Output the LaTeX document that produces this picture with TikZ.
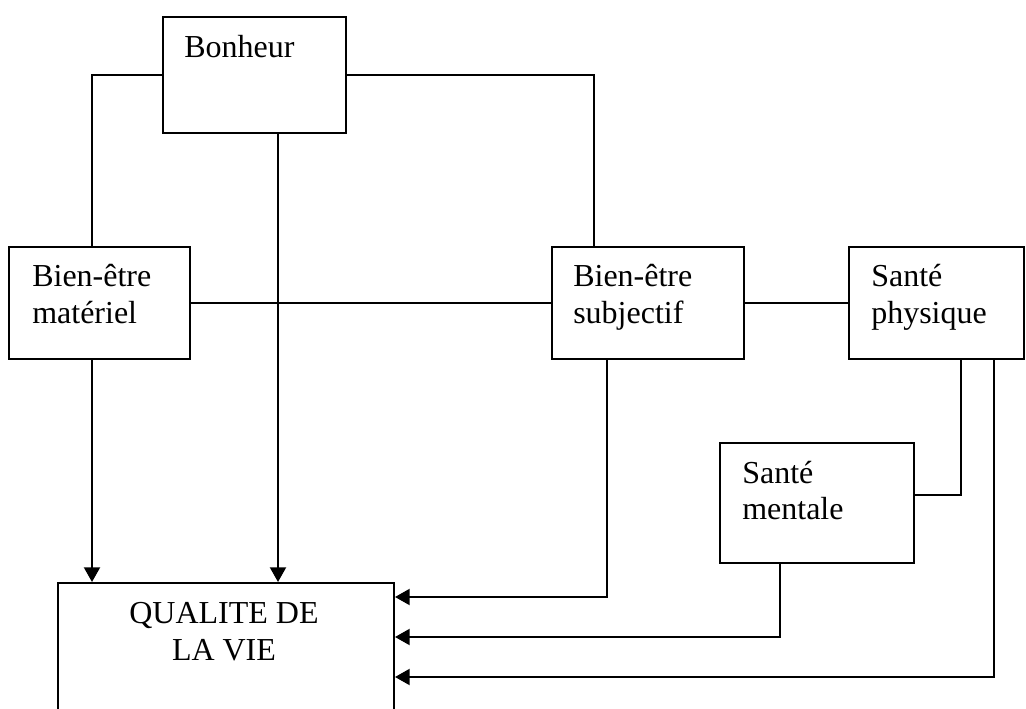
\documentclass[tikz,border=0pt]{standalone}
\usepackage{fontspec}
\setmainfont{Liberation Serif}
\usetikzlibrary{arrows.meta}

\begin{document}
\begin{tikzpicture}[x=0.75pt,y=-0.75pt]
		\tikzset{box/.style = {shape=rectangle,draw,line width=1.5pt,inner sep=0pt}}
		\tikzset{txt/.style = {font=\fontsize{24}{27.75}\selectfont,inner sep=0pt,anchor=base west,align=left}}
		\tikzset{edge/.style = {line width=1.5pt}}
		\tikzset{arr/.style = {edge,-{Triangle[length=11pt,width=12pt]}}}
		\useasboundingbox (0,0) rectangle (1026,709);
		% boxes
		\node[box, minimum width=137.25pt, minimum height=87pt] (bon) at (254.5,75) {};
		\node[box, minimum width=135.75pt, minimum height=84pt] (mat) at (99.5,303) {};
		\node[box, minimum width=144pt, minimum height=84pt] (sub) at (648,303) {};
		\node[box, minimum width=131.25pt, minimum height=84pt] (phy) at (936.5,303) {};
		\node[box, minimum width=145.5pt, minimum height=90pt] (men) at (817,503) {};
		\node[box, minimum width=252pt, minimum height=102.75pt] (qual) at (226,651.5) {};
		
		% texts (base = last line)
		\node[txt] (bontxt) at (184,58) {Bonheur};
		\node[txt] (mattxt) at (32,324) {Bien-être\\matériel};
		\node[txt] (subtxt) at (573,324) {Bien-être\\subjectif};
		\node[txt] (phytxt) at (871,324) {Santé\\physique};
		\node[txt] (mentxt) at (742,520) {Santé\\mentale};
		\node[txt, anchor=base, align=center] (qualtxt) at (224,660) {QUALITE DE\\LA VIE};
		
		%edges
		\draw[edge] (bon.west) -| (92,0 |- mat.north);
		\draw[edge] (bon.east) -| (594,0 |- sub.north);
		\draw[edge] (mat.east) -- (sub.west);
		\draw[edge] (sub.east) -- (phy.west);
		\draw[edge] (961,0 |- phy.south) |- (men.east |- 0,495);
		
		\draw[arr] (278,0 |- bon.south) -- (278,0 |- qual.north);
		\draw[arr] (92,0 |- mat.south) -- (92,0 |- qual.north);
		\draw[arr] (607,0 |- sub.south) |- (qual.east |- 0,597);
		\draw[arr] (780,0 |- men.south) |- (qual.east |- 0,637);
		\draw[arr] (994,0 |- phy.south) |- (qual.east |- 0,677);
		
\end{tikzpicture}
\end{document}
